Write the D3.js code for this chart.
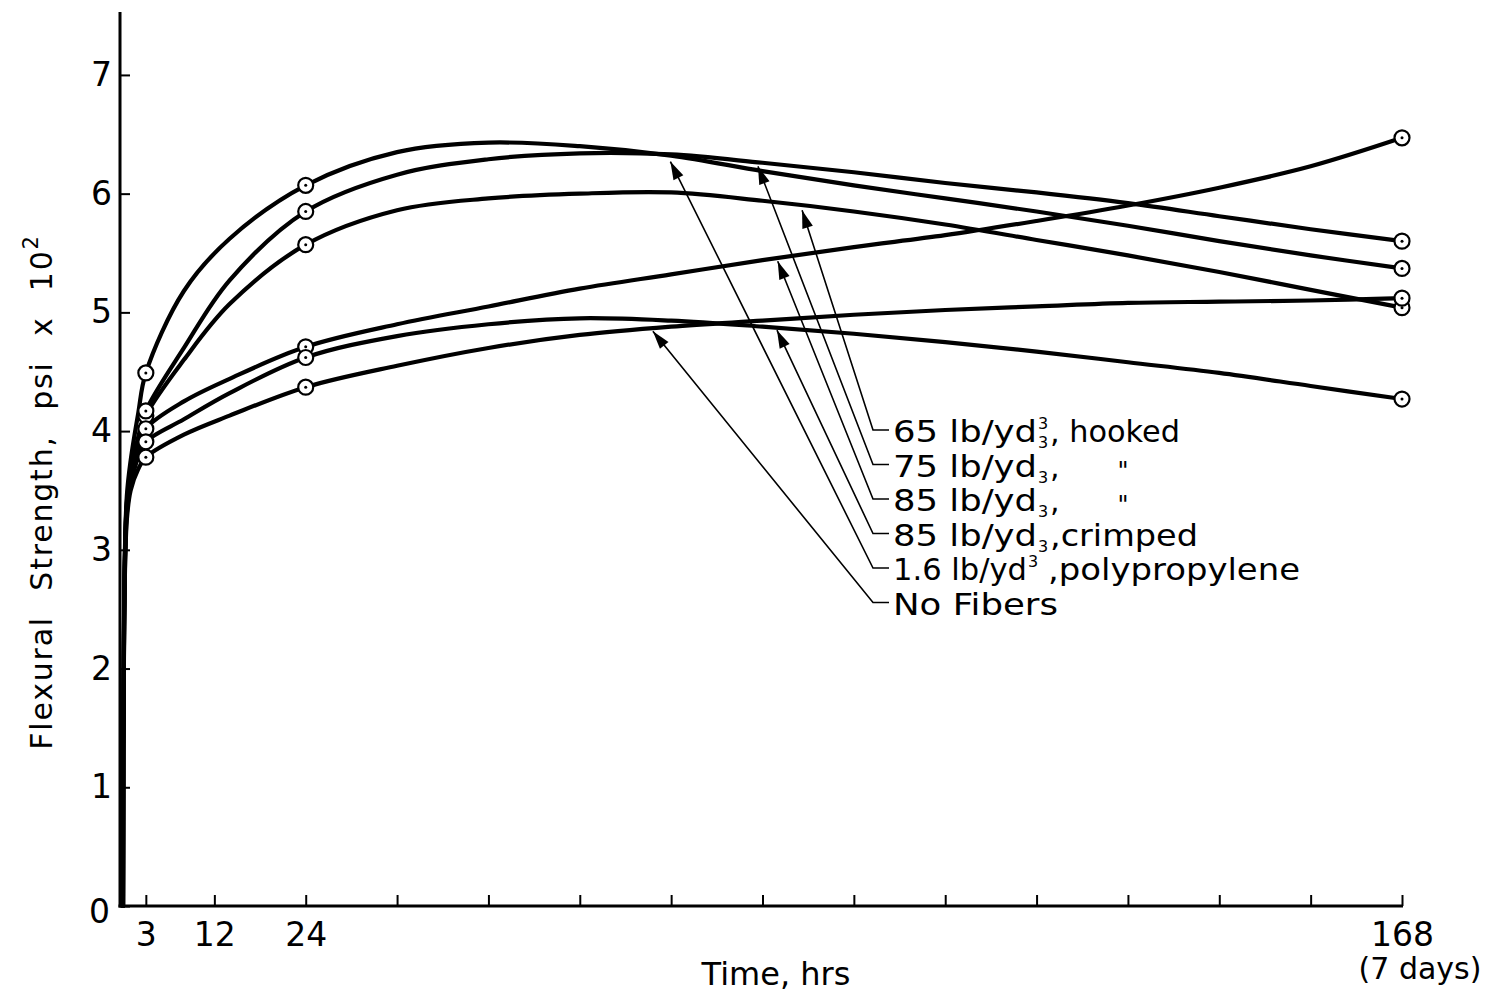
<!DOCTYPE html>
<html>
<head>
<meta charset="utf-8">
<script src="https://cdn.jsdelivr.net/npm/d3@7"></script>
<style>
  html, body { margin: 0; padding: 0; background: #fff; }
  svg { display: block; }
</style>
</head>
<body>
<svg id="chart" width="1485" height="993"></svg>
<script>
// ---- data -------------------------------------------------------------
// Curing time (hours) at which each curve is sampled
const hours = [0, 0.15, 0.5, 1, 2, 3, 8, 14, 24, 36, 48, 60, 72, 84, 96, 108, 120, 132, 144, 156, 168];

// Flexural strength (psi x 10^2) for each mix
const hooked65   = [0, 2.5, 3.38, 3.62, 3.92, 4.13, 4.60, 5.07, 5.57, 5.86, 5.96, 6.00, 6.01, 5.94, 5.85, 5.74, 5.61, 5.48, 5.34, 5.19, 5.04];
const hooked75   = [0, 2.5, 3.40, 3.65, 3.95, 4.17, 4.70, 5.27, 5.85, 6.16, 6.29, 6.34, 6.33, 6.26, 6.18, 6.09, 6.01, 5.92, 5.81, 5.70, 5.60];
const hooked85   = [0, 2.45, 3.35, 3.58, 3.85, 4.02, 4.25, 4.44, 4.71, 4.90, 5.05, 5.20, 5.32, 5.44, 5.55, 5.65, 5.77, 5.90, 6.05, 6.23, 6.47];
const crimped85  = [0, 2.4, 3.30, 3.55, 3.78, 3.91, 4.10, 4.32, 4.62, 4.80, 4.90, 4.95, 4.93, 4.88, 4.82, 4.75, 4.67, 4.58, 4.49, 4.38, 4.27];
const poly16     = [0, 2.6, 3.45, 3.75, 4.15, 4.49, 5.18, 5.62, 6.07, 6.35, 6.43, 6.40, 6.32, 6.19, 6.07, 5.96, 5.85, 5.73, 5.60, 5.48, 5.37];
const noFibers   = [0, 2.35, 3.25, 3.50, 3.68, 3.78, 3.97, 4.13, 4.37, 4.55, 4.70, 4.81, 4.88, 4.93, 4.98, 5.02, 5.05, 5.08, 5.09, 5.10, 5.12];

// Test ages that carry a plotted specimen symbol
const testHours = [3, 24, 168];

// Axis ticks
const xTickValues = [3, 12, 24, 36, 48, 60, 72, 84, 96, 108, 120, 132, 144, 156, 168];
const xTickLabels = { 3: "3", 12: "12", 24: "24", 168: "168" };
const yTickValues = [0, 1, 2, 3, 4, 5, 6, 7];

// Legend rows (text before the exponent, text after it)
const legendMain   = ["65 lb/yd", "75 lb/yd", "85 lb/yd", "85 lb/yd", "1.6 lb/yd", "No Fibers"];
const legendTail   = [", hooked", ",", ",", ",crimped", ",polypropylene", ""];
const legendDitto  = [false, true, true, false, false, false];
const legendSeries = [hooked65, hooked75, hooked85, crimped85, poly16, noFibers];

// Where each legend leader points (hours, strength)
const arrowHours  = [89.2, 83.4, 86.0, 85.9, 71.9, 69.6];
const arrowValues = [5.86, 6.23, 5.43, 4.85, 6.27, 4.84];

// ---- layout -----------------------------------------------------------
const FONT = "'DejaVu Sans', 'Liberation Sans', sans-serif";
const svg = d3.select("#chart");

const x = d3.scaleLinear().domain([0, 168]).range([123, 1402]);
const y = d3.scaleLinear().domain([0, 7.53]).range([906, 12]);
const AXIS_X = 120;

// ---- axes -------------------------------------------------------------
const yAxis = d3.axisLeft(y)
  .tickValues(yTickValues)
  .tickSizeInner(-10)
  .tickSizeOuter(0)
  .tickPadding(8)
  .tickFormat(d3.format("d"));

const yAxisG = svg.append("g")
  .attr("transform", `translate(${AXIS_X},0)`)
  .call(yAxis);
yAxisG.select(".domain").remove();
yAxisG.selectAll(".tick line").attr("stroke", "#000").attr("stroke-width", 2);
yAxisG.selectAll(".tick text")
  .attr("font-family", FONT).attr("font-size", 33).attr("fill", "#000");
yAxisG.selectAll(".tick").filter(d => d === 0).select("text")
  .attr("dy", "0.5em").attr("x", -10);

const xAxis = d3.axisBottom(x)
  .tickValues(xTickValues)
  .tickSizeInner(-11)
  .tickSizeOuter(0)
  .tickPadding(17)
  .tickFormat(d => xTickLabels[d] || "");

const xAxisG = svg.append("g")
  .attr("transform", `translate(0,${y(0)})`)
  .call(xAxis);
xAxisG.select(".domain").remove();
xAxisG.selectAll(".tick line").attr("stroke", "#000").attr("stroke-width", 2);
xAxisG.selectAll(".tick text")
  .attr("font-family", FONT).attr("font-size", 33).attr("fill", "#000");

// axis lines
svg.append("line")
  .attr("x1", AXIS_X).attr("x2", AXIS_X)
  .attr("y1", y(0) + 1.5).attr("y2", y(7.53))
  .attr("stroke", "#000").attr("stroke-width", 3);
svg.append("line")
  .attr("x1", AXIS_X - 1.5).attr("x2", x(168) + 1)
  .attr("y1", y(0)).attr("y2", y(0))
  .attr("stroke", "#000").attr("stroke-width", 3);

svg.append("text")
  .attr("x", x(168) + 18).attr("y", y(0) + 73)
  .attr("text-anchor", "middle")
  .attr("font-family", FONT).attr("font-size", 30)
  .text("(7 days)");

// axis titles
svg.append("text")
  .attr("x", 776).attr("y", 985)
  .attr("text-anchor", "middle")
  .attr("font-family", FONT).attr("font-size", 32)
  .text("Time, hrs");

const yTitle = svg.append("text")
  .attr("transform", "translate(52,492) rotate(-90)")
  .attr("text-anchor", "middle")
  .attr("font-family", FONT).attr("font-size", 30)
  .attr("word-spacing", 14)
  .attr("letter-spacing", 1.8);
yTitle.append("tspan").text("Flexural Strength, psi x 10");
yTitle.append("tspan").attr("dy", -14).attr("font-size", 21).text("2");

// ---- curves -----------------------------------------------------------
const line = d3.line()
  .x((d, i) => x(hours[i]))
  .y(d => y(d))
  .curve(d3.curveCatmullRom.alpha(0.5));

svg.append("g").selectAll("path")
  .data(legendSeries)
  .join("path")
  .attr("d", s => line(s))
  .attr("fill", "none")
  .attr("stroke", "#000")
  .attr("stroke-width", 4.2)
  .attr("stroke-linecap", "round")
  .attr("stroke-linejoin", "round");

// specimen symbols: open circle with centre dot
const pts = [];
legendSeries.forEach(s => testHours.forEach(h => pts.push({ h, v: s[hours.indexOf(h)] })));
const sym = svg.append("g").selectAll("g").data(pts).join("g")
  .attr("transform", d => `translate(${x(d.h)},${y(d.v)})`);
sym.append("circle").attr("r", 7.5).attr("fill", "#fff").attr("stroke", "#000").attr("stroke-width", 2.2);
sym.append("circle").attr("r", 1.5).attr("fill", "#000");

// ---- legend with leaders ---------------------------------------------
const LEG_X = 893, LEG_Y0 = 442, LEG_DY = 34.5;
const mainWidths = [144, 144, 144, 144, 134, 165];
const tailWidths = [130, 10, 10, 148, 252, 0];
const EXP_SIZE = 16;
const legend = svg.append("g").attr("font-family", FONT).attr("font-size", 30).attr("fill", "#000");

legendMain.forEach((label, i) => {
  const base = LEG_Y0 + i * LEG_DY;
  legend.append("text")
    .attr("x", LEG_X).attr("y", base)
    .attr("textLength", mainWidths[i]).attr("lengthAdjust", "spacingAndGlyphs")
    .text(label);
  const endX = LEG_X + mainWidths[i];
  // the "3" exponents
  if (i === 0 || i === 4) {
    legend.append("text").attr("x", endX + 1).attr("y", base - 13)
      .attr("font-size", EXP_SIZE).text("3");
  }
  if (i <= 3) {
    legend.append("text").attr("x", endX + 1).attr("y", base + 6)
      .attr("font-size", EXP_SIZE).text("3");
  }
  if (legendTail[i]) {
    const t = legend.append("text")
      .attr("x", i === 4 ? 1048 : endX + 13).attr("y", base)
      .text(legendTail[i]);
    if (tailWidths[i] > 20) t.attr("textLength", tailWidths[i]).attr("lengthAdjust", "spacingAndGlyphs");
  }
  if (legendDitto[i]) {
    legend.append("text").attr("x", 1123).attr("y", base + 2)
      .attr("font-size", 24).attr("text-anchor", "middle").text("\"");
  }

  // leader: short stub, then a thin line to an arrowhead on the curve
  const cx = LEG_X - 20, cy = base - 12;
  const tx = x(arrowHours[i]), ty = y(arrowValues[i]);
  legend.append("path")
    .attr("d", `M${LEG_X - 4},${cy}H${cx}L${tx},${ty}`)
    .attr("fill", "none").attr("stroke", "#000").attr("stroke-width", 1.6);
  const ang = Math.atan2(ty - cy, tx - cx);
  const L = 18, W = 5.5;
  const bx = tx - L * Math.cos(ang), by = ty - L * Math.sin(ang);
  const nx = -Math.sin(ang) * W, ny = Math.cos(ang) * W;
  legend.append("path")
    .attr("d", `M${tx},${ty}L${bx + nx},${by + ny}L${bx - nx},${by - ny}Z`)
    .attr("fill", "#000");
});
</script>
</body>
</html>
